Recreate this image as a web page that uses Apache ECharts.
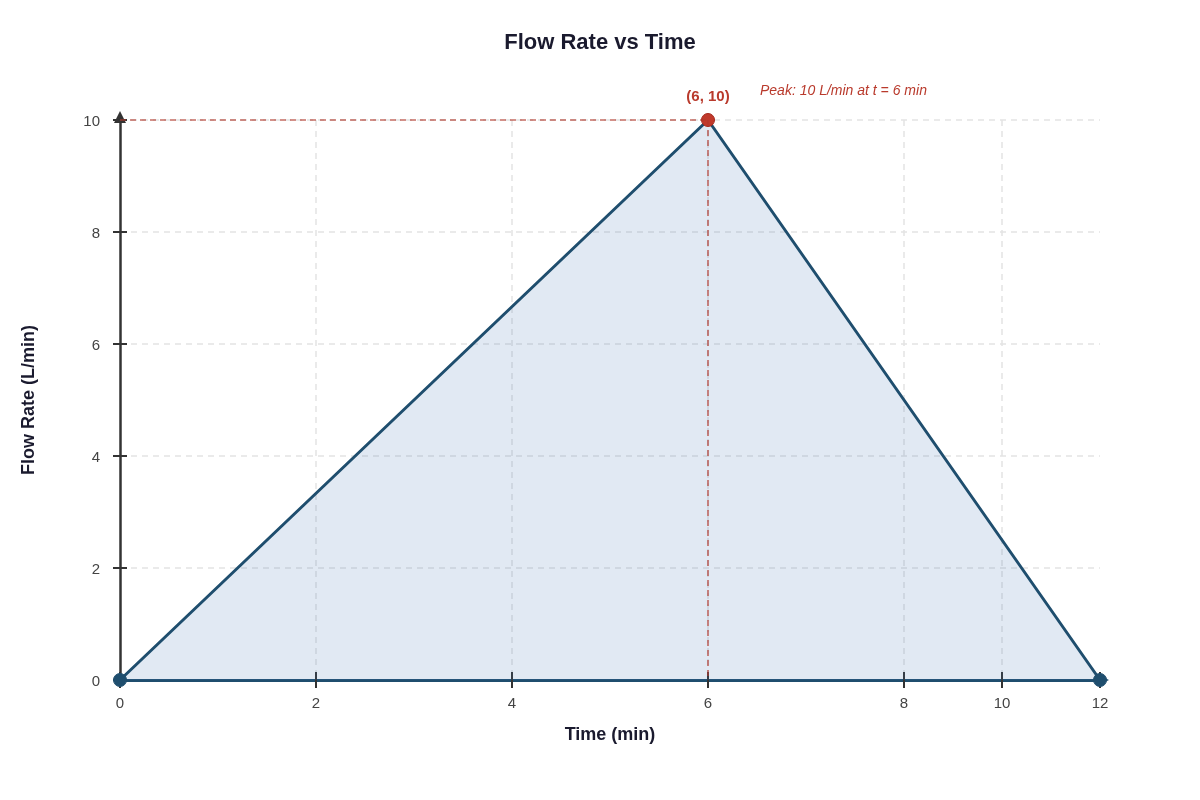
<!DOCTYPE html>
<html>
<head>
<meta charset="utf-8">
<script src="https://cdn.jsdelivr.net/npm/echarts@6/dist/echarts.min.js"></script>
<style>html,body{margin:0;padding:0;background:#fff}#chart{width:1200px;height:800px}</style>
</head>
<body>
<div id="chart"></div>
<script>
// Time axis categories (min) as laid out in the reference
const timeCategories = ['0','1','2','3','4','5','6','7','8','10','12'];
// Labelled ticks on the time axis
const timeTickLabels = ['0','2','4','6','8','10','12'];
// Flow rate points [time, L/min]
const flowPoints = [['0', 0], ['6', 10], ['12', 0]];
// Peak
const peakTime = '6';
const peakFlow = 10;
// Flow axis
const flowMin = 0, flowMax = 10, flowStep = 2;

const FONT = '"Liberation Sans", Arial, sans-serif';
const BLUE = '#1f4e6e';
const RED = '#c0392b';

const isTick = (idx, val) => timeTickLabels.indexOf(String(val)) >= 0;
const isGrid = (idx, val) => isTick(idx, val) && idx !== 0 && idx !== timeCategories.length - 1;

const chart = echarts.init(document.getElementById('chart'), null, {renderer: 'canvas'});
chart.setOption({
  backgroundColor: '#fff',
  animation: false,
  textStyle: {fontFamily: FONT},
  title: {
    text: 'Flow Rate vs Time',
    left: 'center',
    top: 27,
    textStyle: {fontFamily: FONT, fontSize: 22, fontWeight: 'bold', color: '#1a1a2e'}
  },
  grid: {left: 120, right: 100, top: 120, bottom: 120, containLabel: false},
  graphic: [{
    type: 'text',
    left: 760,
    top: 84,
    style: {
      text: 'Peak: ' + peakFlow + ' L/min at t = ' + peakTime + ' min',
      font: 'italic 14px ' + FONT,
      fill: '#b93a2c'
    }
  }],
  xAxis: [{
    type: 'category',
    data: timeCategories,
    boundaryGap: false,
    position: 'bottom',
    name: 'Time (min)',
    nameLocation: 'middle',
    nameGap: 46,
    nameTextStyle: {fontFamily: FONT, fontSize: 18, fontWeight: 'bold', color: '#1a1a2e'},
    axisLine: {show: true, symbol: ['none', 'triangle'], symbolSize: [12, 12], symbolOffset: [0, 3],
      lineStyle: {color: BLUE, width: 3}},
    axisTick: {show: true, interval: isTick, length: 8, lineStyle: {color: '#333', width: 2}},
    axisLabel: {interval: isTick, margin: 16, fontSize: 15, color: '#444', fontFamily: FONT},
    splitLine: {show: true, interval: isGrid, lineStyle: {color: '#e3e3e3', type: [6, 5], width: 1.5}}
  }, {
    type: 'category',
    data: timeCategories,
    boundaryGap: false,
    position: 'bottom',
    axisLine: {show: false},
    axisTick: {show: true, inside: true, interval: isTick, length: 8, lineStyle: {color: '#333', width: 2}},
    axisLabel: {show: false},
    splitLine: {show: false}
  }],
  yAxis: [{
    type: 'value',
    min: flowMin, max: flowMax, interval: flowStep,
    position: 'left',
    name: 'Flow Rate (L/min)',
    nameLocation: 'middle',
    nameGap: 82,
    nameTextStyle: {fontFamily: FONT, fontSize: 18, fontWeight: 'bold', color: '#1a1a2e'},
    axisLine: {show: true, symbol: ['none', 'triangle'], symbolSize: [12, 12], symbolOffset: [0, 3],
      lineStyle: {color: '#333', width: 2.5}},
    axisTick: {show: true, length: 7, lineStyle: {color: '#333', width: 2}},
    axisLabel: {
      margin: 20, fontSize: 15, color: '#444', fontFamily: FONT,
      formatter: v => '{v|' + v + '}',
      rich: {v: {fontSize: 15, color: '#444', fontFamily: FONT, padding: [4, 0, 0, 0]}}
    },
    splitLine: {show: true, lineStyle: {color: '#e3e3e3', type: [6, 5], width: 1.5}}
  }, {
    type: 'value',
    min: flowMin, max: flowMax, interval: flowStep,
    position: 'left',
    axisLine: {show: false},
    axisTick: {show: true, inside: true, length: 7, lineStyle: {color: '#333', width: 2}},
    axisLabel: {show: false},
    splitLine: {show: false}
  }],
  series: [{
    type: 'line',
    data: flowPoints.map(p => {
      const isPeak = p[0] === peakTime;
      return {
        value: p,
        itemStyle: isPeak ? {color: RED, borderColor: '#a5281c', borderWidth: 1} : {color: BLUE, borderColor: BLUE},
        label: isPeak ? {show: true, position: 'top', distance: 9, formatter: '(' + peakTime + ', ' + peakFlow + ')',
          fontSize: 15, fontWeight: 'bold', color: '#b93a2c', fontFamily: FONT} : {show: false}
      };
    }),
    symbol: 'circle',
    symbolSize: 13,
    showAllSymbol: true,
    lineStyle: {color: BLUE, width: 3},
    areaStyle: {color: 'rgba(70,120,180,0.16)', opacity: 1},
    z: 3,
    markLine: {
      silent: true,
      symbol: ['none', 'none'],
      label: {show: false},
      lineStyle: {color: 'rgba(176,58,46,0.75)', type: [6, 4], width: 1.6},
      data: [
        [{coord: [flowPoints[0][0], peakFlow]}, {coord: [peakTime, peakFlow]}],
        [{coord: [peakTime, peakFlow]}, {coord: [peakTime, flowMin]}]
      ]
    }
  }]
});
</script>
</body>
</html>
